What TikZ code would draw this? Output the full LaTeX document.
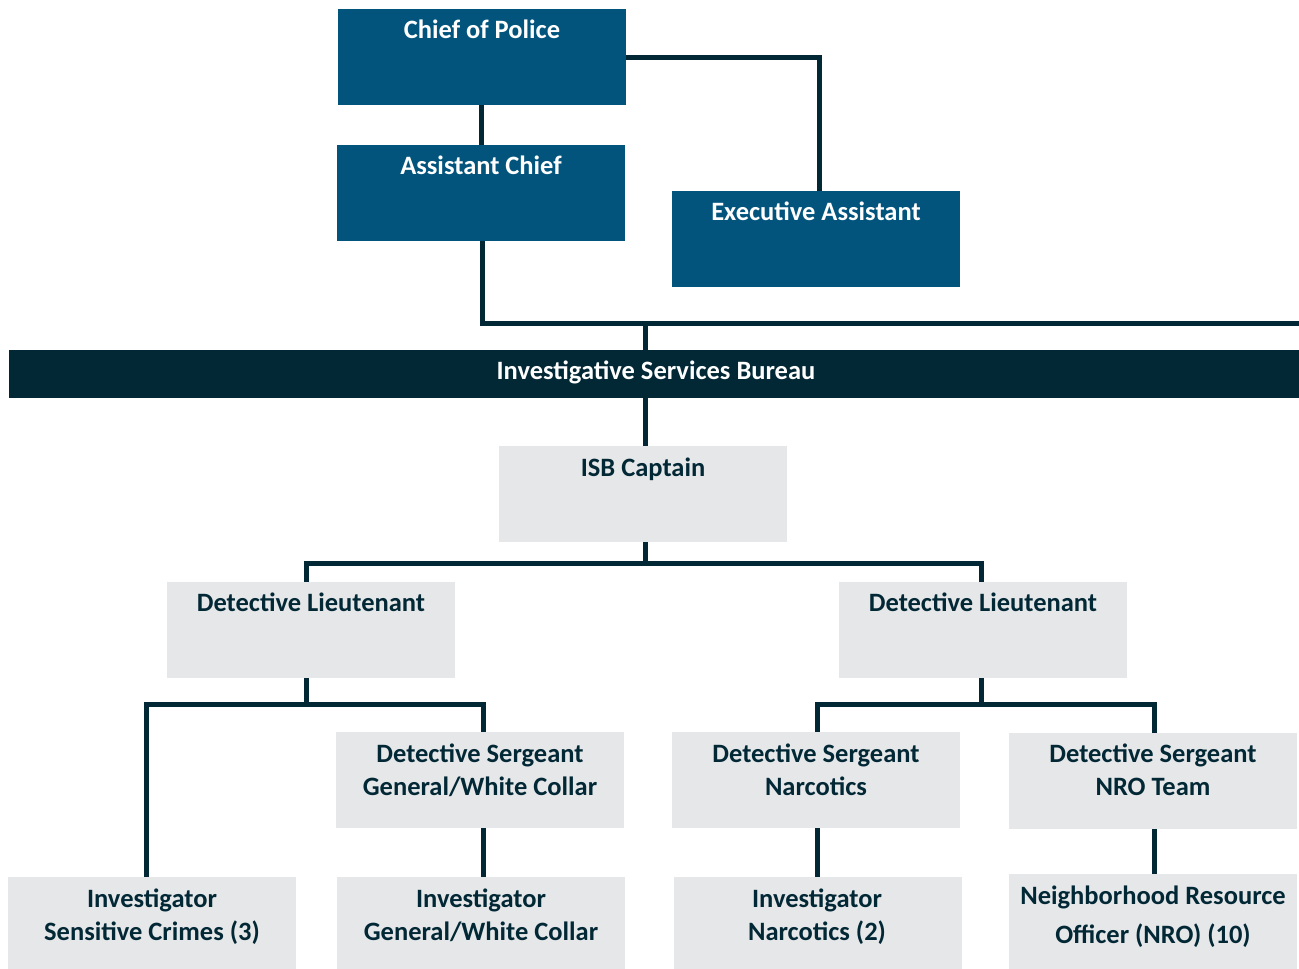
\documentclass[tikz,border=0pt]{standalone}
\usepackage{fontspec}
\setmainfont{Carlito}
\definecolor{navy}{HTML}{02547D}
\definecolor{ink}{HTML}{022836}
\definecolor{pale}{HTML}{E6E7E9}
\tikzset{
  boxbase/.style={rectangle, inner sep=0pt, anchor=north west, minimum width=288pt, minimum height=96pt},
  bluebox/.style={boxbase, fill=navy},
  greybox/.style={boxbase, fill=pale},
  wlab/.style={text=white, font=\bfseries\fontsize{26.5}{33}\selectfont, align=center, anchor=north, inner sep=0pt},
  dlab/.style={text=ink, font=\bfseries\fontsize{26.5}{33}\selectfont, align=center, anchor=north, inner sep=0pt},
  conn/.style={draw=ink, line width=5pt}
}
\begin{document}
\begin{tikzpicture}[x=1pt,y=-1pt]
\useasboundingbox (0,0) rectangle (1299,969);
% boxes
\node[bluebox] (chief) at (338,9) {};
\node[bluebox] (asst) at (337,145) {};
\node[bluebox] (exec) at (672,191) {};
\node[rectangle, inner sep=0pt, anchor=north west, minimum width=1290pt, minimum height=48pt, fill=ink] (bar) at (9,350) {};
\node[greybox] (isb) at (499,446) {};
\node[greybox] (ltl) at (167,582) {};
\node[greybox] (ltr) at (839,582) {};
\node[greybox] (dsg) at (336,732) {};
\node[greybox] (dsn) at (672,732) {};
\node[greybox] (dsr) at (1009,733) {};
\node[greybox, minimum height=92pt] (isc) at (8,877) {};
\node[greybox, minimum height=92pt] (igw) at (337,877) {};
\node[greybox, minimum height=92pt] (inc) at (674,877) {};
\node[greybox, minimum height=95pt] (nro) at (1009,874) {};
% labels
\node[wlab] (tchief) at (482,20) {Chief of Police};
\node[wlab] (tasst) at (481,156) {Assistant Chief};
\node[wlab] (texec) at (816,202) {Executive Assistant};
\node[wlab, anchor=center] (tbar) at (656,372) {Investigative Services Bureau};
\node[dlab] (tisb) at (643,458) {ISB Captain};
\node[dlab] (tltl) at (311,593) {Detective Lieutenant};
\node[dlab] (tltr) at (983,593) {Detective Lieutenant};
\node[dlab] (tdsg) at (480,744) {Detective Sergeant\\General/White Collar};
\node[dlab] (tdsn) at (816,744) {Detective Sergeant\\Narcotics};
\node[dlab] (tdsr) at (1153,744) {Detective Sergeant\\NRO Team};
\node[dlab] (tisc) at (152,889) {Investigator\\Sensitive Crimes (3)};
\node[dlab] (tigw) at (481,889) {Investigator\\General/White Collar};
\node[dlab] (tinc) at (817,889) {Investigator\\Narcotics (2)};
\node[dlab, font=\bfseries\fontsize{26.5}{39}\selectfont] (tnro) at (1153,886) {Neighborhood Resource\\Officer (NRO) (10)};
% coordinates
\coordinate (rend) at (1299,323);
\coordinate (junc) at (645,323);
\coordinate (jisb) at (645,563);
\coordinate (jltl) at (306,704);
\coordinate (jltr) at (981,704);
% connectors
\draw[conn] ([xshift=-1pt]chief.south) -- ([xshift=-1pt]chief.south |- asst.north);
\draw[conn] (chief.east) -| ([xshift=3pt]exec.north);
\draw[conn] ([xshift=1.5pt]asst.south) |- (rend);
\draw[conn] (junc) -- (junc |- bar.north);
\draw[conn] (bar.south -| junc) -- (junc |- isb.north);
\draw[conn] (junc |- isb.south) -- (jisb);
\draw[conn] (jisb) -| (jltl |- ltl.north);
\draw[conn] (jisb) -| (jltr |- ltr.north);
\draw[conn] (jltl |- ltl.south) -- (jltl);
\draw[conn] (jltl) -| (146,877) coordinate (aisc);
\draw[conn] (jltl) -| (483,732) coordinate (adsg);
\draw[conn] (jltr |- ltr.south) -- (jltr);
\draw[conn] (jltr) -| (817,732) coordinate (adsn);
\draw[conn] (jltr) -| (1154,733) coordinate (adsr);
\draw[conn] (adsg |- dsg.south) -- (adsg |- igw.north);
\draw[conn] (adsn |- dsn.south) -- (adsn |- inc.north);
\draw[conn] (adsr |- dsr.south) -- (adsr |- nro.north);
\end{tikzpicture}
\end{document}
